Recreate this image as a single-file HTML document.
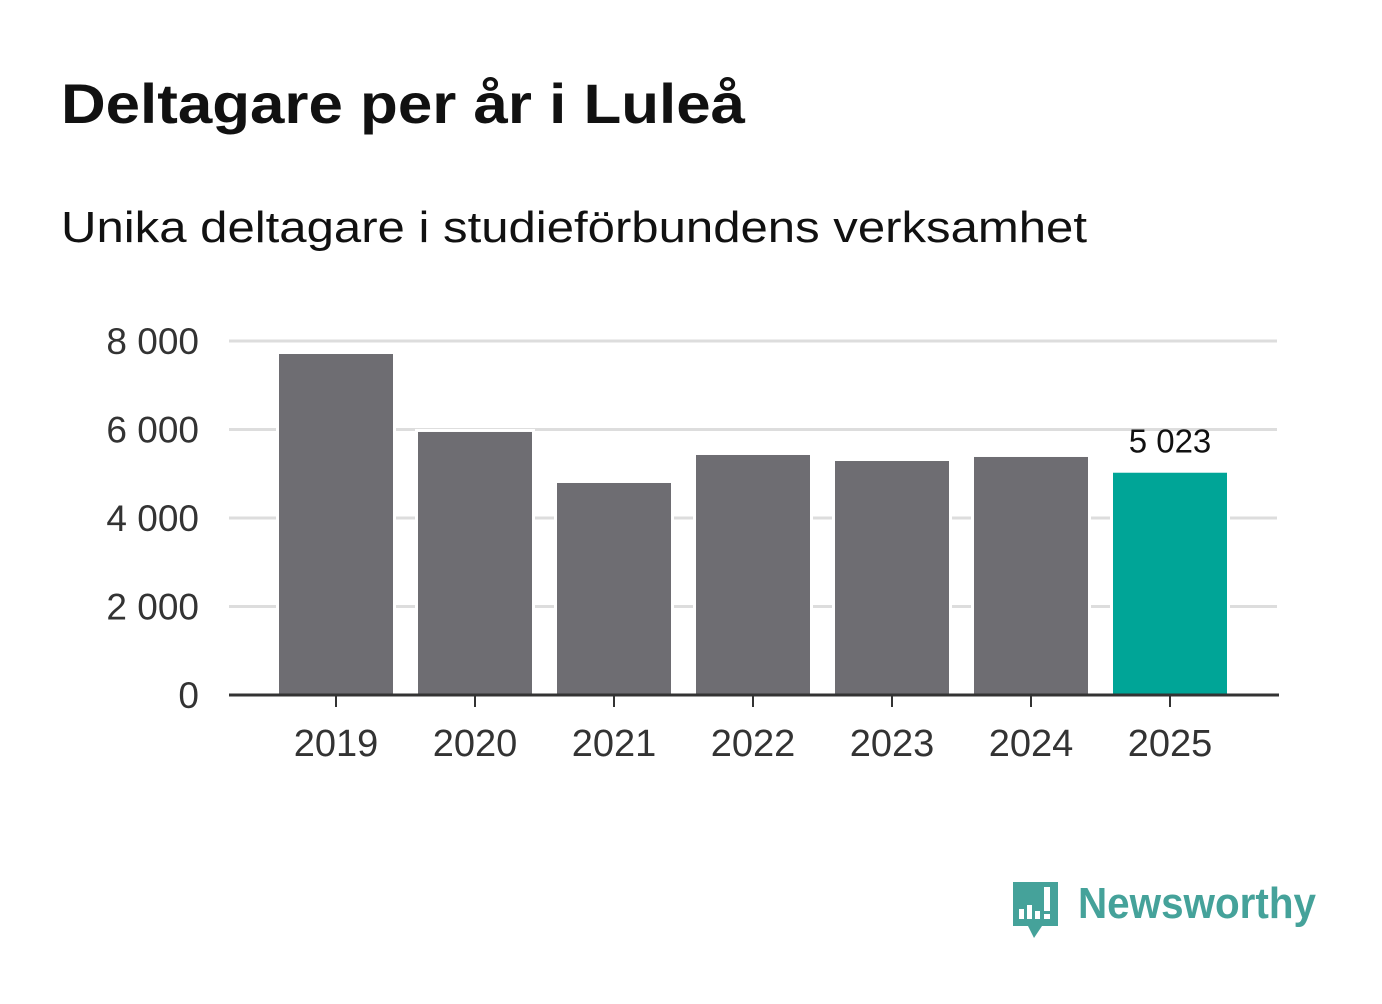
<!DOCTYPE html>
<html><head><meta charset="utf-8"><style>
body{margin:0;width:1382px;height:999px;background:#fff;overflow:hidden;font-family:"Liberation Sans",sans-serif}
</style></head><body>
<svg width="1382" height="999" xmlns="http://www.w3.org/2000/svg">
<text x="61" y="123" font-size="56" font-weight="bold" fill="#111" textLength="684" lengthAdjust="spacingAndGlyphs">Deltagare per år i Luleå</text>
<text x="61" y="242" font-size="44" fill="#111" textLength="1026" lengthAdjust="spacingAndGlyphs">Unika deltagare i studieförbundens verksamhet</text>
<g id="grid"></g><g id="bars"></g><g id="axes"></g>
<g>
<path d="M1013 882h45v44h-16l-8 12l-6-12h-15z" fill="#45a29a"/>
<rect x="1019" y="909" width="5" height="10" fill="#fff"/><rect x="1027" y="905" width="5" height="14" fill="#fff"/><rect x="1035" y="911" width="5" height="8" fill="#fff"/><rect x="1044" y="887" width="6" height="24" fill="#fff"/><rect x="1044" y="914" width="6" height="5" fill="#fff"/>
<text x="1078" y="918" font-size="44" font-weight="bold" fill="#45a29a" textLength="238" lengthAdjust="spacingAndGlyphs">Newsworthy</text>
</g>
</svg>
<script>
const years=["2019","2020","2021","2022","2023","2024","2025"];
const values=[7706,5944,4791,5424,5288,5379,5023];
const yTicks=[0,2000,4000,6000,8000];
const tickLabels=["0","2 000","4 000","6 000","8 000"];
const ns="http://www.w3.org/2000/svg";
const y=v=>695-v*354/8000;
const x=i=>336+i*139;
function mk(t,a,p){const e=document.createElementNS(ns,t);for(const k in a)e.setAttribute(k,a[k]);p.appendChild(e);return e;}
const G=document.getElementById('grid'),B=document.getElementById('bars'),A=document.getElementById('axes');
yTicks.forEach((v,i)=>{
 const l=mk('line',{x1:229,x2:1277,y1:y(v),y2:y(v),stroke:'#ddd','stroke-width':3},G);
 
 
 const t=mk('text',{x:199,y:y(v)+13,'font-size':37,fill:'#333','text-anchor':'end'},A);t.textContent=tickLabels[i];
 
 
});
values.forEach((v,i)=>{
 const last=i===values.length-1;
 const r=mk('rect',{x:x(i)-57,y:y(v),width:114,height:695-y(v),fill:last?'#00a597':'#6e6d72',stroke:'#fff','stroke-width':6,'paint-order':'stroke'},B);
 
 
 const t=mk('text',{x:x(i),y:756,'font-size':38,fill:'#333','text-anchor':'middle'},A);t.textContent=years[i];
 
 
 mk('line',{x1:x(i),x2:x(i),y1:695,y2:707,stroke:'#333','stroke-width':2},A);
 if(last){const lb=mk('text',{x:x(i),y:y(v)-20,'font-size':33,fill:'#111','text-anchor':'middle'},A);lb.textContent=v.toLocaleString('sv-SE').replace(/\s/g,' ');
 
 }
});
const ax=mk('line',{x1:229,x2:1279,y1:695,y2:695,stroke:'#333','stroke-width':3},A);


</script>
</body></html>
